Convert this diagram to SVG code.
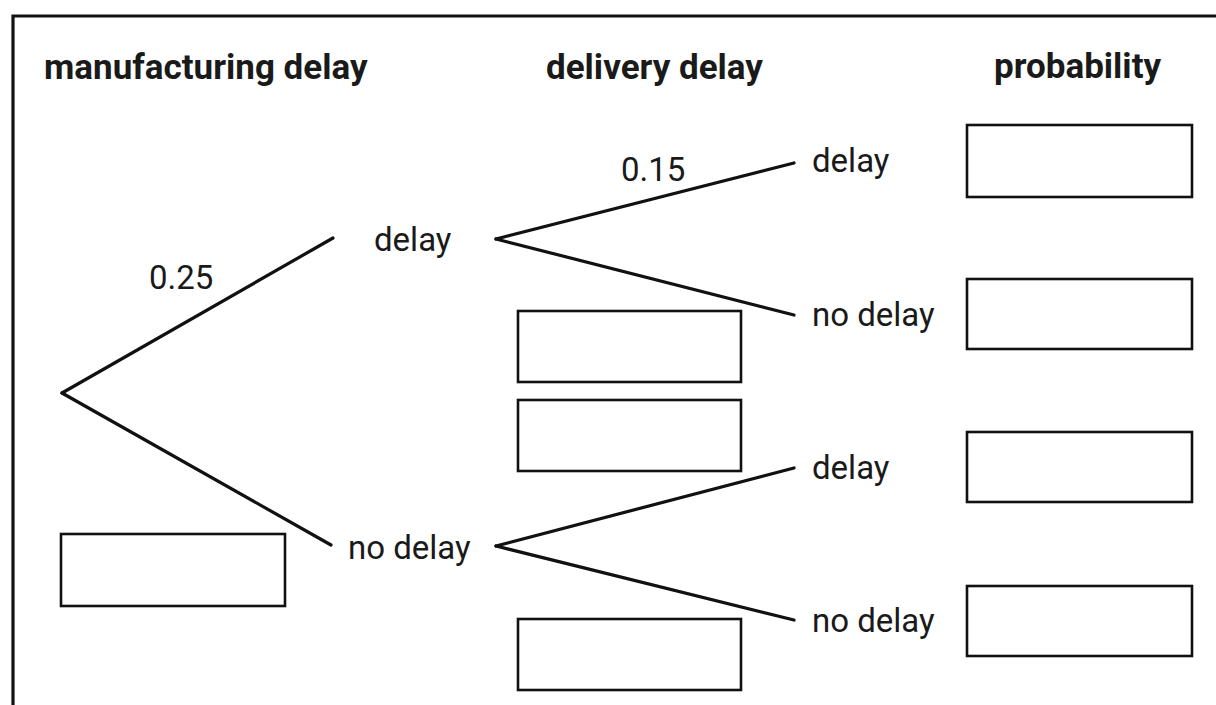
<svg xmlns="http://www.w3.org/2000/svg" width="1216" height="705" viewBox="0 0 1216 705">
<style>
.t{font-family:Roboto,"Liberation Sans",sans-serif;font-size:33px;fill:#1a1a1a}
.h{font-family:Roboto,"Liberation Sans",sans-serif;font-size:35px;font-weight:bold;fill:#1a1a1a}
.ln{stroke:#111;stroke-width:3.2;fill:none;stroke-linecap:round}
.bx{stroke:#111;stroke-width:2.6;fill:#fff}
</style>
<rect width="1216" height="705" fill="#fff"/>
<g id="frame"><path d="M13,705 V16 H1216" class="ln"/></g>
<g id="headers">
<text class="h" x="44" y="79">manufacturing delay</text>
<text class="h" x="546" y="79">delivery delay</text>
<text class="h" x="994" y="78">probability</text>
</g>
<g id="connectors">
<line class="ln" x1="62" y1="393" x2="333" y2="238"/>
<line class="ln" x1="62" y1="393" x2="331" y2="545"/>
<line class="ln" x1="496" y1="239" x2="794" y2="163"/>
<line class="ln" x1="496" y1="239" x2="794" y2="315"/>
<line class="ln" x1="496" y1="546" x2="794" y2="468"/>
<line class="ln" x1="496" y1="546" x2="794" y2="620"/>
</g>
<g id="edge-labels">
<text class="t" x="149" y="289">0.25</text>
<text class="t" x="621" y="181">0.15</text>
</g>
<g id="node-m-delay"><text class="t" x="374" y="251">delay</text></g>
<g id="node-m-nodelay"><text class="t" x="348" y="559">no delay</text></g>
<g id="node-dd"><text class="t" x="812" y="172">delay</text></g>
<g id="node-dn"><text class="t" x="812" y="326">no delay</text></g>
<g id="node-nd"><text class="t" x="812" y="479">delay</text></g>
<g id="node-nn"><text class="t" x="812" y="632">no delay</text></g>
<g id="answer-boxes">
<rect class="bx" x="61" y="534" width="224" height="72"/>
<rect class="bx" x="518" y="311" width="223" height="71"/>
<rect class="bx" x="518" y="400" width="223" height="71"/>
<rect class="bx" x="518" y="619" width="223" height="71"/>
<rect class="bx" x="967" y="125" width="225" height="72"/>
<rect class="bx" x="967" y="279" width="225" height="70"/>
<rect class="bx" x="967" y="432" width="225" height="70"/>
<rect class="bx" x="967" y="586" width="225" height="70"/>
</g>
</svg>
